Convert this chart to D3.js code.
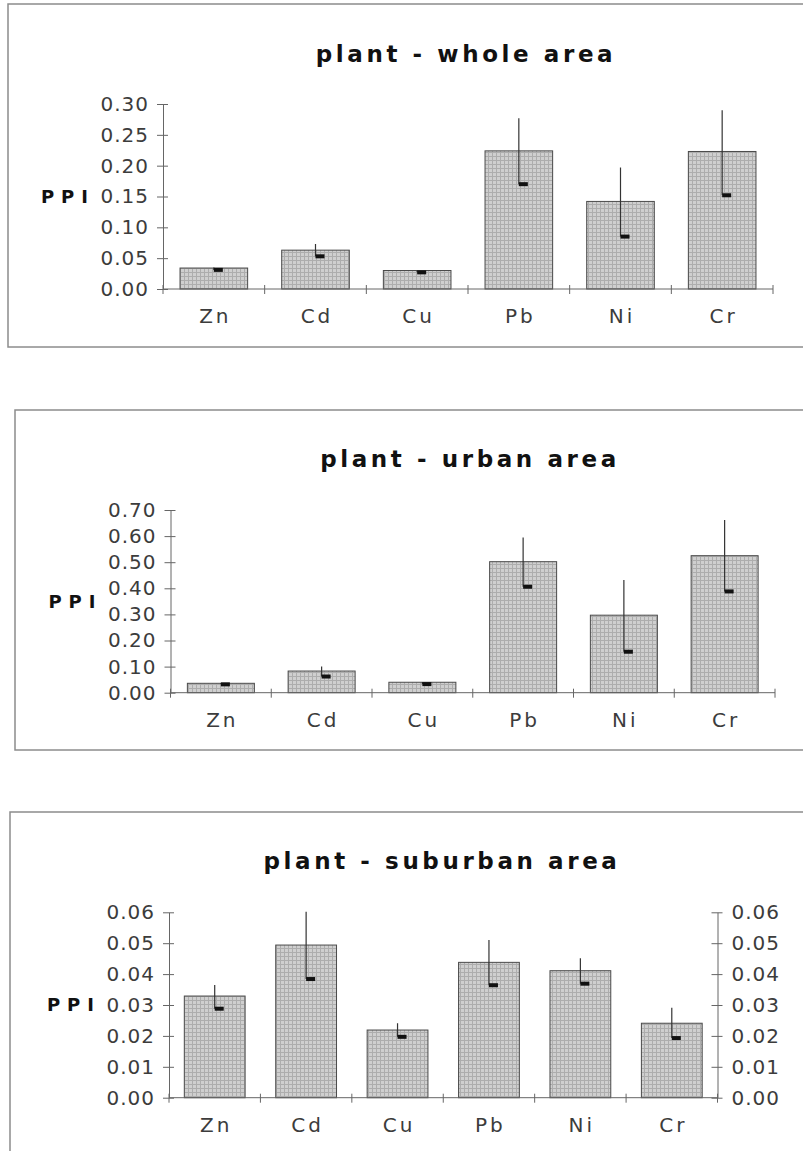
<!DOCTYPE html>
<html>
<head>
<meta charset="utf-8">
<script src="https://cdn.jsdelivr.net/npm/d3@7"></script>
<style>
  html, body { margin: 0; padding: 0; background: #fff; }
  svg { display: block; }
</style>
</head>
<body>
<div id="wrapper"></div>
<script>
// metals on the x axis
const categories = ["Zn", "Cd", "Cu", "Pb", "Ni", "Cr"];

// plant - whole area
const wholeBars  = [0.034, 0.063, 0.030, 0.224, 0.142, 0.223];
const wholeMeans = [0.031, 0.053, 0.027, 0.170, 0.085, 0.152];
const wholeUpper = [0.035, 0.073, 0.030, 0.277, 0.197, 0.290];
const wholeTicks = [0, 0.05, 0.10, 0.15, 0.20, 0.25, 0.30];

// plant - urban area
const urbanBars  = [0.036, 0.083, 0.040, 0.502, 0.297, 0.525];
const urbanMeans = [0.032, 0.062, 0.033, 0.406, 0.157, 0.388];
const urbanUpper = [0.037, 0.100, 0.041, 0.595, 0.432, 0.662];
const urbanTicks = [0, 0.10, 0.20, 0.30, 0.40, 0.50, 0.60, 0.70];

// plant - suburban area
const suburbBars  = [0.0329, 0.0494, 0.0219, 0.0438, 0.0411, 0.0241];
const suburbMeans = [0.0288, 0.0384, 0.0197, 0.0364, 0.0369, 0.0193];
const suburbUpper = [0.0365, 0.0602, 0.0241, 0.0510, 0.0451, 0.0291];
const suburbTicks = [0, 0.01, 0.02, 0.03, 0.04, 0.05, 0.06];

function buildPlot() {
    const dimension = { width: 803, height: 1151 };

    const panels = [
        { title: "plant - whole area", bars: wholeBars, means: wholeMeans, upper: wholeUpper, ticks: wholeTicks,
          frame: { x: 8, y: 4, h: 343 }, x0: 163, x1: 773, yTop: 104, yBot: 289, titleX: 466, titleY: 62, right: false },
        { title: "plant - urban area", bars: urbanBars, means: urbanMeans, upper: urbanUpper, ticks: urbanTicks,
          frame: { x: 15, y: 410, h: 340 }, x0: 170.5, x1: 775, yTop: 510, yBot: 692.7, titleX: 470, titleY: 467, right: false },
        { title: "plant - suburban area", bars: suburbBars, means: suburbMeans, upper: suburbUpper, ticks: suburbTicks,
          frame: { x: 10, y: 812, h: 400 }, x0: 169, x1: 717.5, yTop: 912.3, yBot: 1097.7, titleX: 442, titleY: 869, right: true }
    ];

    const svg = d3.select("#wrapper").append("svg")
        .attr("width", dimension.width)
        .attr("height", dimension.height);

    svg.append("rect")
        .attr("width", dimension.width)
        .attr("height", dimension.height)
        .attr("fill", "#fff");

    // fine cross-hatched grey fill, like the old print
    const pattern = svg.append("defs").append("pattern")
        .attr("id", "hatch")
        .attr("patternUnits", "userSpaceOnUse")
        .attr("width", 4)
        .attr("height", 4);
    pattern.append("rect").attr("width", 4).attr("height", 4).attr("fill", "#cfcfcf");
    pattern.append("path").attr("d", "M0 0.5H4M0.5 0V4").attr("stroke", "#adadad").attr("stroke-width", 1);

    const fmt = d3.format(".2f");
    const tickFont = "DejaVu Sans, sans-serif";

    panels.forEach(p => {
        const g = svg.append("g");

        // frame (right edge runs off the page)
        g.append("rect")
            .attr("x", p.frame.x)
            .attr("y", p.frame.y)
            .attr("width", 900)
            .attr("height", p.frame.h)
            .attr("fill", "none")
            .attr("stroke", "#8c8c8c")
            .attr("stroke-width", 1.5);

        const xScaler = d3.scaleBand()
            .domain(categories)
            .range([p.x0, p.x1])
            .paddingInner(0.335)
            .paddingOuter(0.1675);

        const yScaler = d3.scaleLinear()
            .domain([0, d3.max(p.ticks)])
            .range([p.yBot, p.yTop]);

        const slot = d3.scaleLinear().domain([0, categories.length]).range([p.x0, p.x1]);

        // title
        g.append("text")
            .attr("x", p.titleX)
            .attr("y", p.titleY)
            .attr("text-anchor", "middle")
            .attr("font-family", tickFont)
            .attr("font-weight", "bold")
            .attr("font-size", "23px")
            .attr("letter-spacing", "3.6px")
            .attr("fill", "#111")
            .text(p.title);

        // bars
        g.append("g").selectAll("rect")
            .data(p.bars)
            .join("rect")
            .attr("x", (d, i) => xScaler(categories[i]))
            .attr("y", d => yScaler(d))
            .attr("width", xScaler.bandwidth())
            .attr("height", d => p.yBot - yScaler(d))
            .attr("fill", "url(#hatch)")
            .attr("stroke", "#4a4a4a")
            .attr("stroke-width", 1);

        // upper error line from the mean marker
        const cx = i => xScaler(categories[i]) + xScaler.bandwidth() / 2;
        g.append("g").selectAll("line")
            .data(p.means)
            .join("line")
            .attr("x1", (d, i) => cx(i))
            .attr("x2", (d, i) => cx(i))
            .attr("y1", d => yScaler(d))
            .attr("y2", (d, i) => yScaler(p.upper[i]))
            .attr("stroke", "#333")
            .attr("stroke-width", 1.2);

        g.append("g").selectAll("rect")
            .data(p.means)
            .join("rect")
            .attr("x", (d, i) => cx(i))
            .attr("y", d => yScaler(d) - 2)
            .attr("width", 9)
            .attr("height", 4)
            .attr("fill", "#111");

        // y axis
        const yAxis = d3.axisLeft(yScaler)
            .tickValues(p.ticks)
            .tickFormat(fmt)
            .tickSizeInner(6)
            .tickSizeOuter(0)
            .tickPadding(8);
        const yAxisGroup = g.append("g")
            .attr("transform", `translate(${p.x0},0)`)
            .call(yAxis);
        yAxisGroup.selectAll("line").attr("x1", 5).attr("stroke", "#666");
        yAxisGroup.select(".domain").attr("stroke", "#666");
        yAxisGroup.selectAll("text")
            .attr("font-family", tickFont)
            .attr("font-size", "20px")
            .attr("letter-spacing", "1px")
            .attr("fill", "#3c3c3c");

        if (p.right) {
            const rAxis = d3.axisRight(yScaler)
                .tickValues(p.ticks)
                .tickFormat(fmt)
                .tickSizeInner(5)
                .tickSizeOuter(0)
                .tickPadding(9);
            const rAxisGroup = g.append("g")
                .attr("transform", `translate(${p.x1},0)`)
                .call(rAxis);
            rAxisGroup.selectAll("line").attr("x1", -6).attr("stroke", "#666");
            rAxisGroup.select(".domain").attr("stroke", "#666");
            rAxisGroup.selectAll("text")
                .attr("font-family", tickFont)
                .attr("font-size", "20px")
                .attr("letter-spacing", "1px")
                .attr("fill", "#3c3c3c");
        }

        // x axis with separator ticks between categories
        g.append("line")
            .attr("x1", p.x0)
            .attr("x2", p.x1)
            .attr("y1", p.yBot)
            .attr("y2", p.yBot)
            .attr("stroke", "#666");
        g.append("g").selectAll("line")
            .data(d3.range(categories.length + 1))
            .join("line")
            .attr("x1", d => slot(d))
            .attr("x2", d => slot(d))
            .attr("y1", p.yBot - 4)
            .attr("y2", p.yBot + 5)
            .attr("stroke", "#666");

        g.append("g").selectAll("text")
            .data(categories)
            .join("text")
            .attr("x", d => xScaler(d) + xScaler.bandwidth() / 2 + 1.5)
            .attr("y", p.yBot + 34)
            .attr("text-anchor", "middle")
            .attr("font-family", tickFont)
            .attr("font-size", "20px")
            .attr("letter-spacing", "3px")
            .attr("fill", "#3c3c3c")
            .text(d => d);

        // y title
        g.append("text")
            .attr("x", p.x0 - 68)
            .attr("y", (p.yTop + p.yBot) / 2)
            .attr("dy", "0.35em")
            .attr("text-anchor", "end")
            .attr("font-family", tickFont)
            .attr("font-weight", "bold")
            .attr("font-size", "18px")
            .attr("letter-spacing", "7px")
            .attr("fill", "#111")
            .text("PPI");
    });
}

buildPlot();
</script>
</body>
</html>
